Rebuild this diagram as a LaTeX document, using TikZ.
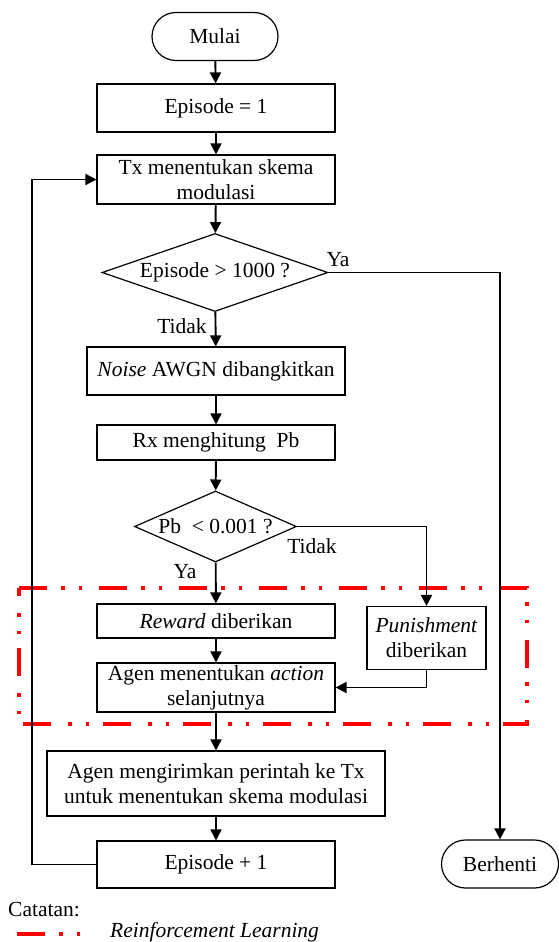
\documentclass[tikz,border=0pt]{standalone}
\usepackage{fontspec}
\setmainfont{Liberation Serif}
\usetikzlibrary{arrows.meta,shapes.geometric}
\begin{document}
\begin{tikzpicture}[x=1pt,y=-1pt,
  every node/.style={font=\fontsize{21.5}{25}\selectfont},
  box/.style={draw,line width=1.2pt,inner sep=2pt,align=center,minimum width=238pt},
  term/.style={draw,line width=1.2pt,rounded corners=24pt,minimum height=48pt,inner sep=2pt},
  dec/.style={draw,diamond,line width=1.2pt,inner sep=0pt},
  conn/.style={line width=1.9pt,-{Triangle[length=11pt,width=11pt]}},
  rl/.style={draw=red,line width=3.2pt,dash pattern=on 28pt off 14pt on 3.5pt off 14pt on 3.5pt off 17pt},
  lbl/.style={inner sep=0pt}
]
\useasboundingbox (0,0) rectangle (558,942);

% Reinforcement learning region
\draw[rl] (19,588) -- (527,588) -- (527,724) -- (19,724) -- cycle;

% nodes
\node[term,minimum width=126pt] (mulai) at (215,36.5) {Mulai};
\node[box,minimum height=48pt] (ep1) at (216,108) {Episode = 1};
\node[box,minimum height=49pt] (tx) at (216,179.5) {Tx menentukan skema\\modulasi};
\node[dec,minimum width=226pt,minimum height=78pt,aspect=2.9] (d1) at (215,272.5) {Episode > 1000 ?};
\node[box,minimum width=258pt,minimum height=48pt] (noise) at (216,371) {\textit{Noise} AWGN dibangkitkan};
\node[box,minimum height=35pt] (rx) at (216,442.5) {Rx menghitung~ Pb};
\node[dec,minimum width=162pt,minimum height=71pt,aspect=2.28] (d2) at (215.5,526.5) {Pb~ < 0.001 ?};
\node[box,minimum height=34pt] (reward) at (216,621) {\textit{Reward} diberikan};
\node[box,minimum height=49pt] (action) at (216,687.5) {Agen menentukan \textit{action}\\selanjutnya};
\node[box,minimum width=119pt,minimum height=63pt] (punish) at (426.5,638) {\textit{Punishment}\\diberikan};
\node[box,minimum width=338pt,minimum height=65pt] (kirim) at (216,783.5) {Agen mengirimkan perintah ke Tx\\untuk menentukan skema modulasi};
\node[box,minimum height=47pt] (ep2) at (216,864.5) {Episode + 1};
\node[term,minimum width=117pt] (stop) at (500,864) {Berhenti};

% labels
\node[lbl] (ya1) at (338,260) {Ya};
\node[lbl] (tidak1) at (182,326) {Tidak};
\node[lbl] (tidak2) at (312,546) {Tidak};
\node[lbl] (ya2) at (185,572) {Ya};

% connectors
\draw[conn] (mulai) -- (ep1);
\draw[conn] (ep1) -- (tx);
\draw[conn] (tx) -- (d1);
\draw[conn] (d1) -- (noise);
\draw[conn] (noise) -- (rx);
\draw[conn] (rx) -- (d2);
\draw[conn] (d2) -- (reward);
\draw[conn] (reward) -- (action);
\draw[conn] (action) -- (kirim);
\draw[conn] (kirim) -- (ep2);
\draw[conn] (d1.east) -| (stop.north);
\draw[conn] (d2.east) -| (punish.north);
\draw[conn] (punish.south) |- (action.east);
\draw[conn] (ep2.west) -- ++(-64,0) |- (tx.west);

% legend
\node[lbl,anchor=west] (cat) at (8,910) {Catatan:};
\draw[rl] (17,934) -- (80,934);
\node[lbl,anchor=west] (rltext) at (110,932) {\textit{Reinforcement Learning}};
\end{tikzpicture}
\end{document}
